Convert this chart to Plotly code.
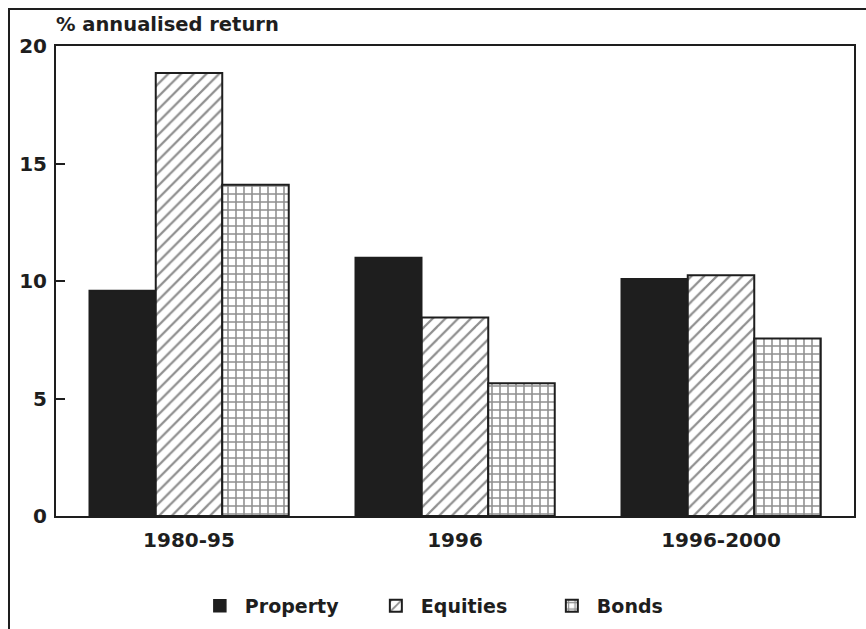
import plotly.graph_objects as go

periods = ["1980-95", "1996", "1996-2000"]
property_ret = [9.6, 11.0, 10.1]
equities_ret = [18.85, 8.45, 10.25]
bonds_ret = [14.1, 5.65, 7.55]
y_ticks = [0, 5, 10, 15, 20]

FONT = "DejaVu Sans"
INK = "#1e1e1e"

fig = go.Figure()
fig.add_trace(go.Bar(
    name="Property", x=periods, y=property_ret,
    marker=dict(color=INK, line=dict(color=INK, width=1.5)),
))
fig.add_trace(go.Bar(
    name="Equities", x=periods, y=equities_ret,
    marker=dict(color="white", line=dict(color=INK, width=2),
                pattern=dict(shape="/", fgcolor=INK, bgcolor="white",
                             size=9, solidity=0.25, fillmode="overlay")),
))
fig.add_trace(go.Bar(
    name="Bonds", x=periods, y=bonds_ret,
    marker=dict(color="white", line=dict(color=INK, width=2),
                pattern=dict(shape="+", fgcolor=INK, bgcolor="white",
                             size=8, solidity=0.35, fillmode="overlay")),
))

fig.update_layout(
    width=866, height=629,
    margin=dict(l=56, r=12, t=46, b=113, autoexpand=False),
    paper_bgcolor="white", plot_bgcolor="white",
    barmode="group", bargap=0.25, bargroupgap=0,
    font=dict(family=FONT, size=19, color=INK),
    showlegend=True,
    legend=dict(orientation="h", x=0.174, xanchor="left", y=-0.1915, yanchor="middle",
                font=dict(family=FONT, size=19, color=INK, weight="bold"),
                itemwidth=40, entrywidth=121, traceorder="normal"),
    xaxis=dict(showline=True, linecolor=INK, linewidth=2, mirror=True, automargin=False,
               ticks="", showgrid=False, ticklabelstandoff=5,
               tickfont=dict(family=FONT, size=20, color=INK, weight="bold")),
    yaxis=dict(range=[0, 20], tickvals=y_ticks, showline=True, linecolor=INK,
               linewidth=2, mirror=True, ticks="inside", ticklen=9, tickwidth=2,
               tickcolor=INK, showgrid=False, zeroline=False, ticklabelstandoff=3,
               automargin=False,
               tickfont=dict(family=FONT, size=20, color=INK, weight="bold")),
    annotations=[dict(text="% annualised return", xref="paper", yref="paper",
                      x=-0.002, y=1.0447, xanchor="left", yanchor="middle",
                      showarrow=False,
                      font=dict(family=FONT, size=19.5, color=INK, weight="bold"))],
    shapes=[dict(type="rect", xref="paper", yref="paper",
                 x0=-0.0589, x1=1.02, y0=-0.5, y1=1.0787,
                 line=dict(color=INK, width=2), fillcolor="rgba(0,0,0,0)",
                 layer="below")],
)

fig.write_html("out.html")
